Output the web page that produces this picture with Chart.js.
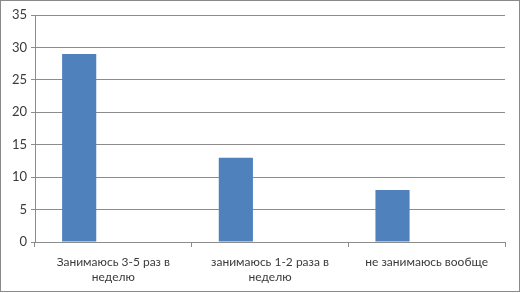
<!DOCTYPE html>
<html lang="ru">
<head>
  <meta charset="UTF-8">
  <title>Занятия спортом</title>
  <script src="https://cdn.jsdelivr.net/npm/chart.js"></script>
  <style>
    html, body { margin: 0; padding: 0; background: #fff; }
    #wrap { width: 521px; height: 293px; position: relative; }
  </style>
</head>
<body>
  <div id="wrap"><canvas id="barChart"></canvas></div>

  <script>
    // data
    const categories = [
      ['Занимаюсь 3-5 раз в', 'неделю'],
      ['занимаюсь 1-2 раза в', 'неделю'],
      'не занимаюсь вообще'
    ];
    const values = [29, 13, 8];
    const emptySeries = [null, null, null]; // second (empty) series, keeps bars to the left
    const yTicks = [0, 5, 10, 15, 20, 25, 30, 35];

    const gridColor = '#8c8c8c';
    const textColor = '#3a3a3a';

    // gray frame round the whole chart
    const framePlugin = {
      id: 'frame',
      afterDraw(chart) {
        const c = chart.ctx;
        c.save();
        c.strokeStyle = '#8a8a8a';
        c.lineWidth = 1;
        c.strokeRect(0.5, 0.5, 519, 291);
        c.restore();
      }
    };

    const ctx = document.getElementById('barChart').getContext('2d');
    new Chart(ctx, {
      type: 'bar',
      data: {
        labels: categories,
        datasets: [{
          label: 'Ряд 1',
          data: values,
          backgroundColor: '#4F81BD',
          borderWidth: 0,
          barPercentage: 0.5,
          categoryPercentage: 0.872
        }, {
          label: 'Ряд 2',
          data: emptySeries,
          backgroundColor: '#C0504D',
          barPercentage: 0.5,
          categoryPercentage: 0.872
        }]
      },
      options: {
        responsive: true,
        maintainAspectRatio: false,
        animation: false,
        layout: { padding: { top: 15, right: 16, bottom: 0, left: 0 } },
        plugins: {
          legend: { display: false },
          tooltip: { enabled: false }
        },
        scales: {
          x: {
            grid: {
              display: true,
              drawOnChartArea: false,
              offset: true,
              color: gridColor,
              tickLength: 5
            },
            border: { color: gridColor },
            ticks: {
              color: textColor,
              font: { family: 'Lato', size: 12, lineHeight: 1.25 },
              maxRotation: 0,
              padding: 8
            },
            afterFit(scale) { scale.height = 51; }
          },
          y: {
            min: 0,
            max: 35,
            afterBuildTicks(scale) { scale.ticks = yTicks.map(v => ({ value: v })); },
            grid: {
              color: gridColor,
              tickLength: 4
            },
            border: { color: gridColor },
            ticks: {
              color: textColor,
              font: { family: 'Lato', size: 13 },
              padding: 4
            },
            afterFit(scale) { scale.width = 35; }
          }
        }
      },
      plugins: [framePlugin]
    });
  </script>
</body>
</html>
